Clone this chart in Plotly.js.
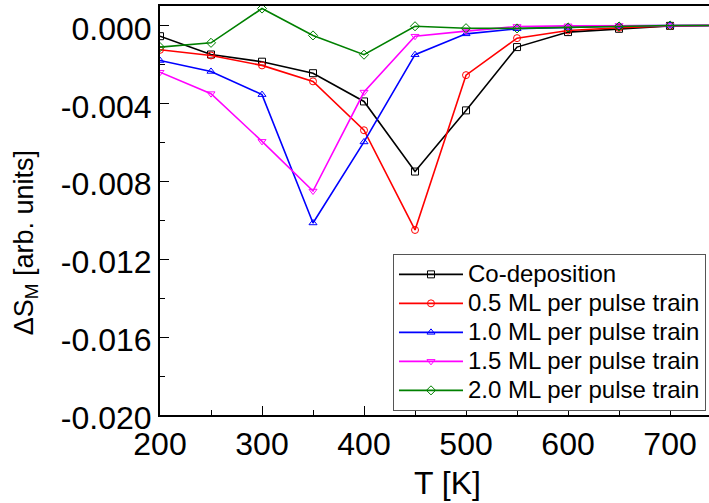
<!DOCTYPE html>
<html>
<head>
<meta charset="utf-8">
<script src="https://cdn.plot.ly/plotly-3.0.1.min.js"></script>
<style>html,body{margin:0;padding:0;background:#fff;}#chart{width:709px;height:503px;}</style>
</head>
<body>
<div id="chart"></div>
<script>
var temperature = [200, 250, 300, 350, 400, 450, 500, 550, 600, 650, 700, 750];
var coDeposition = [-0.00055, -0.00149, -0.00186, -0.00245, -0.0039, -0.0075, -0.00436, -0.00111, -0.00034, -0.00017, -0.00002, 0.0];
var ml05 = [-0.00125, -0.00154, -0.00205, -0.00287, -0.00538, -0.0105, -0.00255, -0.00065, -0.00026, -0.00012, -0.00002, 0.0];
var ml10 = [-0.0018, -0.00236, -0.00355, -0.01014, -0.00598, -0.0015, -0.00043, -0.00017, -0.0001, -0.00002, 0.0, 0.0];
var ml15 = [-0.0024, -0.0035, -0.00595, -0.0085, -0.00342, -0.00055, -0.00029, -0.00005, -0.00002, 0.0, 0.0, 0.0];
var ml20 = [-0.00111, -0.00089, 0.00087, -0.00051, -0.0015, -0.00004, -0.00014, -0.00015, -0.0001, -0.00005, 0.0, 0.0];
var seriesNames = ["Co-deposition", "0.5 ML per pulse train", "1.0 ML per pulse train", "1.5 ML per pulse train", "2.0 ML per pulse train"];
var xTickVals = [200, 300, 400, 500, 600, 700];
var xTickText = ["200", "300", "400", "500", "600", "700"];
var yTickVals = [0.0, -0.004, -0.008, -0.012, -0.016, -0.020];
var yTickText = ["0.000", "-0.004", "-0.008", "-0.012", "-0.016", "-0.020"];
var xTitle = "T [K]";
var yTitle = "\u0394S<sub>M</sub> [arb. units]";

var seriesValues = [coDeposition, ml05, ml10, ml15, ml20];
var colors = ["#000000", "#ff0000", "#0000ff", "#ff00ff", "#008000"];
var symbols = ["square-open", "circle-open", "triangle-up-open", "triangle-down-open", "diamond-open"];

var traces = seriesValues.map(function (vals, i) {
  return {
    x: temperature, y: vals,
    name: "<span style='font-size:24px'>" + seriesNames[i] + "</span>",
    type: "scatter", mode: "lines+markers",
    line: {color: colors[i], width: 1.6},
    marker: {symbol: symbols[i], size: 7, color: colors[i], line: {width: 1}},
    cliponaxis: true
  };
});

var font = "'Liberation Sans', Arial, sans-serif";
var layout = {
  width: 709, height: 503,
  margin: {l: 160, r: 0, t: 6, b: 88},
  paper_bgcolor: "#fff", plot_bgcolor: "#fff",
  font: {family: font, color: "#000", size: 32},
  showlegend: true,
  legend: {
    x: 0.4244, y: 0.394, xanchor: "left", yanchor: "top",
    bgcolor: "#fff", bordercolor: "#555", borderwidth: 1,
    font: {family: font, size: 20, color: "#000"},
    itemwidth: 64
  },
  xaxis: {
    range: [200, 738.2], tickvals: xTickVals, ticktext: xTickText,
    ticks: "inside", ticklen: 9, tickwidth: 1, tickcolor: "#000",
    minor: {ticks: "inside", dtick: 50, ticklen: 5, tickcolor: "#000"},
    showline: true, linecolor: "#000", linewidth: 2, mirror: true,
    showgrid: false, zeroline: false,
    tickfont: {size: 32}
  },
  yaxis: {
    range: [-0.020, 0.001], tickvals: yTickVals, ticktext: yTickText,
    ticks: "inside", ticklen: 9, tickwidth: 1, tickcolor: "#000",
    minor: {ticks: "inside", dtick: 0.002, tick0: 0, ticklen: 5, tickcolor: "#000"},
    showline: true, linecolor: "#000", linewidth: 2, mirror: true,
    showgrid: false, zeroline: false,
    tickfont: {size: 32}, ticklabelshift: 3
  },
  annotations: [
    {text: xTitle, xref: "paper", yref: "paper", x: 0.5228, y: -0.166,
     xanchor: "center", yanchor: "middle", showarrow: false, font: {size: 32}},
    {text: yTitle, xref: "paper", yref: "paper", x: -0.244, y: 0.42,
     xanchor: "center", yanchor: "middle", textangle: -90, showarrow: false, font: {size: 27}}
  ]
};

Plotly.newPlot("chart", traces, layout, {staticPlot: true, displayModeBar: false});
</script>
</body>
</html>
